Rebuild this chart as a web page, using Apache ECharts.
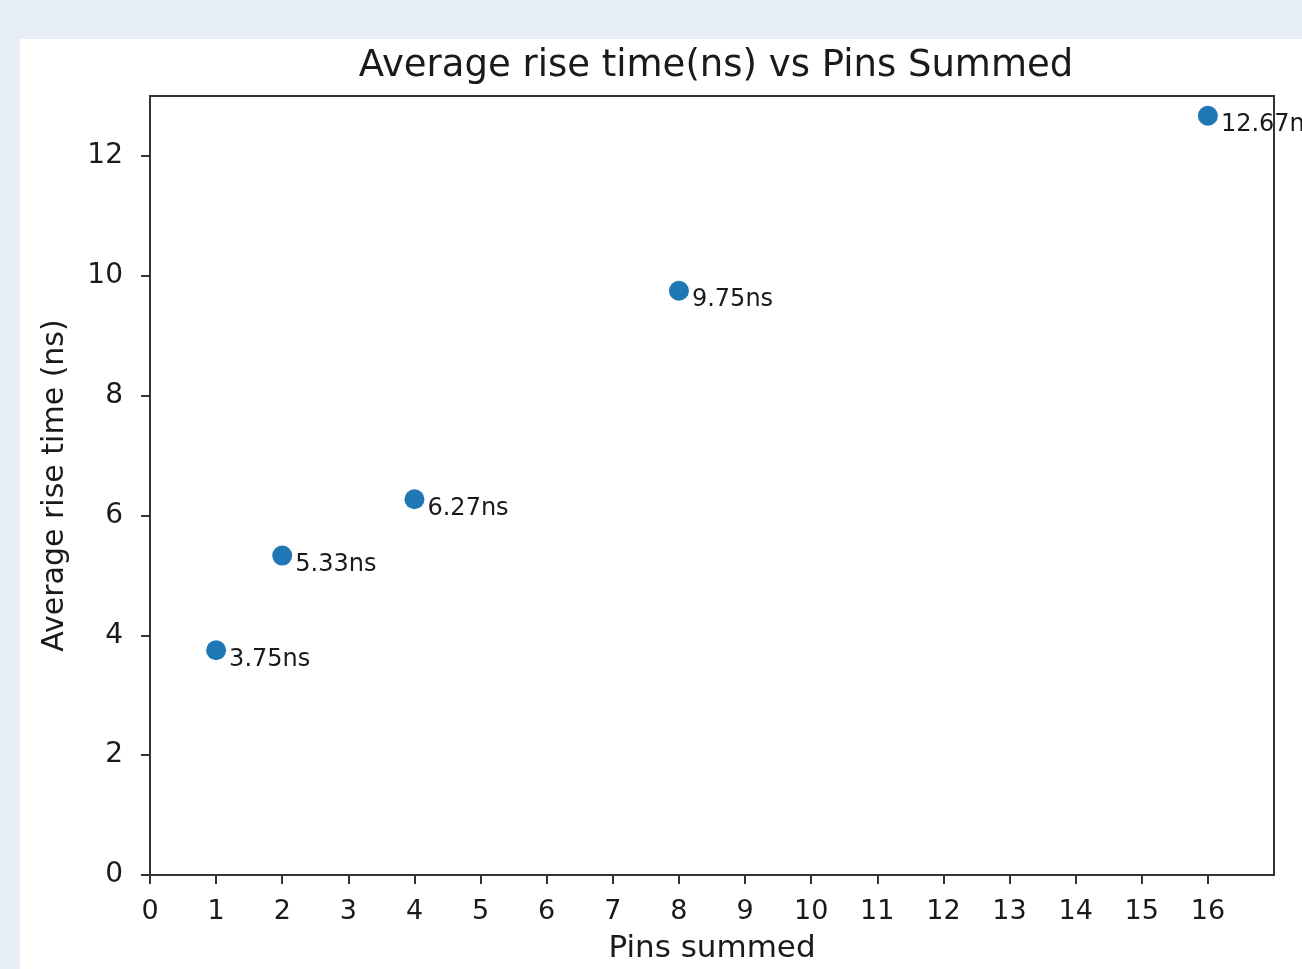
<!DOCTYPE html>
<html>
<head>
<meta charset="utf-8">
<script src="https://cdn.jsdelivr.net/npm/echarts@6/dist/echarts.min.js"></script>
<style>
  html, body { margin: 0; padding: 0; width: 1302px; height: 969px; background: #e6edf5; overflow: hidden; }
  #chart { position: absolute; left: 20px; top: 39px; width: 1282px; height: 930px; background: #ffffff; }
</style>
</head>
<body>
<div id="chart"></div>
<script>
const titleText = 'Average rise time(ns) vs Pins Summed';
const xName = 'Pins summed';
const yName = 'Average rise time (ns)';
const pins = [1, 2, 4, 8, 16];
const riseTimes = [3.75, 5.33, 6.27, 9.75, 12.67];
const xTicks = [0, 1, 2, 3, 4, 5, 6, 7, 8, 9, 10, 11, 12, 13, 14, 15, 16];
const yTicks = [0, 2, 4, 6, 8, 10, 12];

const font = 'DejaVu Sans';
const chart = echarts.init(document.getElementById('chart'), null, { renderer: 'canvas' });
chart.setOption({
  animation: false,
  backgroundColor: '#ffffff',
  title: {
    text: titleText,
    left: 691, top: 4, textAlign: 'center',
    textStyle: { fontFamily: font, fontSize: 37, fontWeight: 'normal', color: '#1a1a1a' }
  },
  grid: {
    left: 130, top: 57, right: 28, bottom: 94,
    outerBoundsMode: 'none', containLabel: false,
    show: true, borderColor: '#333', borderWidth: 2, backgroundColor: 'transparent'
  },
  xAxis: {
    type: 'value', min: 0, max: 17, interval: 1,
    name: xName, nameLocation: 'middle', nameGap: 58,
    nameTextStyle: { fontFamily: font, fontSize: 31, color: '#1a1a1a' },
    axisLine: { show: true, lineStyle: { color: '#333', width: 2 } },
    axisTick: { show: true, length: 9, customValues: xTicks, lineStyle: { color: '#333', width: 2 } },
    axisLabel: { customValues: xTicks, margin: 23, fontFamily: font, fontSize: 27, color: '#1a1a1a' },
    splitLine: { show: false }
  },
  yAxis: {
    type: 'value', min: 0, max: 13, interval: 2,
    name: yName, nameLocation: 'middle', nameGap: 80,
    nameTextStyle: { fontFamily: font, fontSize: 30, color: '#1a1a1a' },
    axisLine: { show: true, lineStyle: { color: '#333', width: 2 } },
    axisTick: { show: true, length: 9, customValues: yTicks, lineStyle: { color: '#333', width: 2 } },
    axisLabel: { customValues: yTicks, margin: 27, fontFamily: font, fontSize: 28, color: '#1a1a1a' },
    splitLine: { show: false }
  },
  series: [{
    type: 'scatter',
    data: pins.map((p, i) => [p, riseTimes[i]]),
    symbol: 'circle',
    symbolSize: 20,
    itemStyle: { color: '#1f77b4', opacity: 1 },
    clip: false,
    label: {
      show: true, position: 'right', distance: 3, offset: [0, 9],
      formatter: p => p.value[1].toFixed(2) + 'ns',
      fontFamily: font, fontSize: 24, color: '#1a1a1a'
    },
    z: 10
  }]
});
</script>
</body>
</html>
